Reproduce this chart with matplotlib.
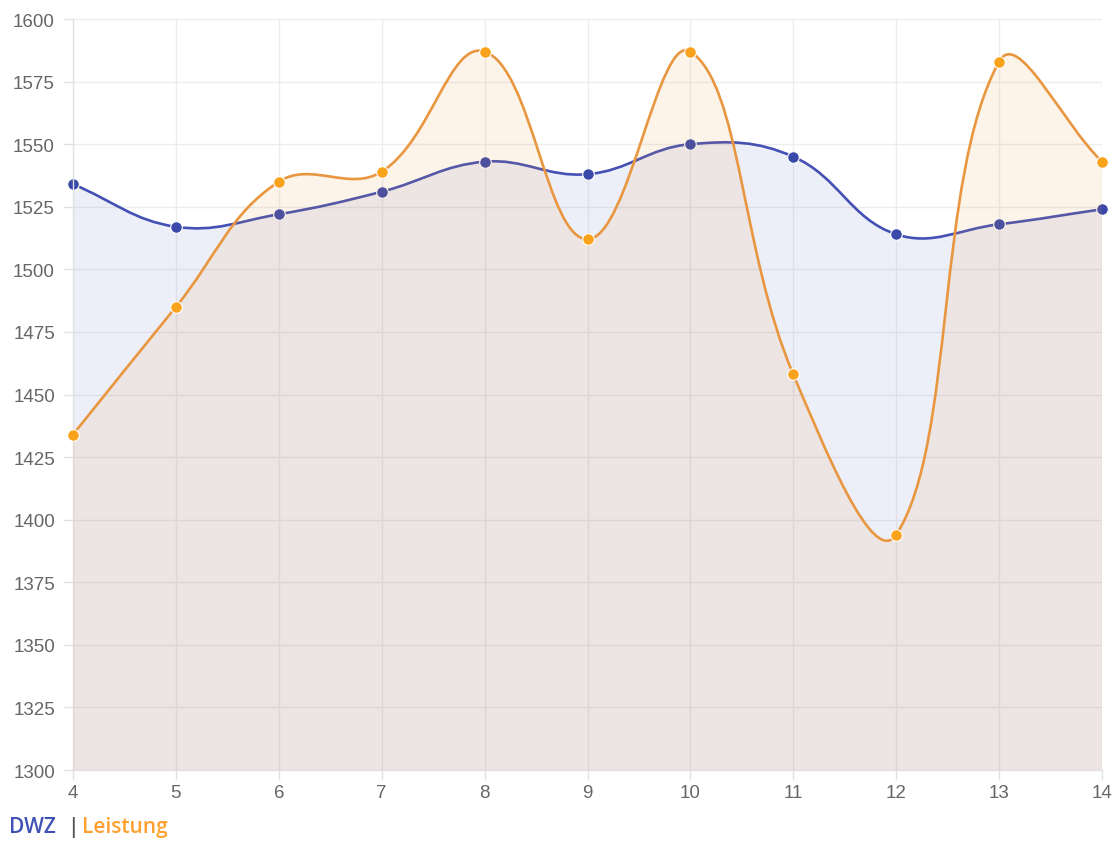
import numpy as np
import matplotlib
matplotlib.use("Agg")
import matplotlib.pyplot as plt
from matplotlib.path import Path
from matplotlib.patches import PathPatch

rounds = [4, 5, 6, 7, 8, 9, 10, 11, 12, 13, 14]
dwz = [1534, 1517, 1522, 1531, 1543, 1538, 1550, 1545, 1514, 1518, 1524]
leistung = [1434, 1485, 1535, 1539, 1587, 1512, 1587, 1458, 1394, 1583, 1543]
yticks = [1300, 1325, 1350, 1375, 1400, 1425, 1450, 1475, 1500, 1525, 1550, 1575, 1600]

W, H = 1116, 845
fig = plt.figure(figsize=(W / 100, H / 100), dpi=100)
L, R, T, B = 73, 1102, 20, 771
ax = fig.add_axes([L / W, (H - B) / H, (R - L) / W, (B - T) / H])
ax.set_xlim(4, 14)
ax.set_ylim(1300, 1600)


def spline_path(xs, ys, tension=0.4):
    pts = ax.transData.transform(np.column_stack([xs, ys]))
    n = len(pts)
    verts = [pts[0]]
    codes = [Path.MOVETO]
    cps = []
    for i in range(n):
        cur = pts[i]
        prev = pts[i - 1] if i > 0 else cur
        nxt = pts[i + 1] if i < n - 1 else cur
        d01 = np.hypot(*(cur - prev))
        d12 = np.hypot(*(nxt - cur))
        tot = d01 + d12
        s01 = d01 / tot if tot else 0
        s12 = d12 / tot if tot else 0
        cps.append((cur - tension * s01 * (nxt - prev),
                    cur + tension * s12 * (nxt - prev)))
    for i in range(1, n):
        verts += [cps[i - 1][1], cps[i][0], pts[i]]
        codes += [Path.CURVE4] * 3
    inv = ax.transData.inverted()
    return inv.transform(np.array(verts)), codes


def draw_series(xs, ys, line_c, fill_c, fill_a, pt_c, z):
    verts, codes = spline_path(xs, ys)
    fv = np.vstack([verts, [[xs[-1], 1300], [xs[0], 1300], verts[0]]])
    fc = codes + [Path.LINETO, Path.LINETO, Path.CLOSEPOLY]
    ax.add_patch(PathPatch(Path(fv, fc), facecolor=fill_c, alpha=fill_a,
                           edgecolor="none", zorder=z))
    ax.add_patch(PathPatch(Path(verts, codes), facecolor="none",
                           edgecolor=line_c, lw=1.9, zorder=z + 0.1,
                           capstyle="round", joinstyle="round"))
    ax.scatter(xs, ys, s=70, color=pt_c, edgecolor="white", linewidth=0.8,
               zorder=z + 0.2, clip_on=False)


draw_series(rounds, dwz, "#4450b3", "#3F51B5", 0.09, "#3a49a9", 2)
draw_series(rounds, leistung, "#e8963f", "#E8963F", 0.11, "#f9a21c", 3)

ax.set_xticks(rounds)
ax.set_xticklabels([str(r) for r in rounds])
ax.set_yticks(yticks)
ax.grid(True, color="#ededed", lw=1)
ax.set_axisbelow(True)
for s in ["top", "right"]:
    ax.spines[s].set_visible(False)
for s in ["left", "bottom"]:
    ax.spines[s].set_color("#e2e2e2")
    ax.spines[s].set_linewidth(1)
ax.tick_params(axis="both", colors="#e2e2e2", labelcolor="#666666",
               labelsize=13.5, length=7, width=1)
for lab in ax.get_xticklabels() + ax.get_yticklabels():
    lab.set_family("Liberation Sans")
ax.tick_params(axis="x", pad=3)
ax.tick_params(axis="y", pad=6)

ty = 1 - 828 / H
fig.text(9 / W, ty, "DWZ", color="#3F51B5", fontsize=15, weight=600,
         family="Open Sans", va="center", ha="left")
fig.text(67 / W, ty, "|", color="#555555", fontsize=15, weight=600,
         family="Open Sans", va="center", ha="left")
fig.text(82 / W, ty, "Leistung", color="#FFA030", fontsize=15, weight=600,
         family="Open Sans", va="center", ha="left")

fig.savefig("out.png", dpi=100)
